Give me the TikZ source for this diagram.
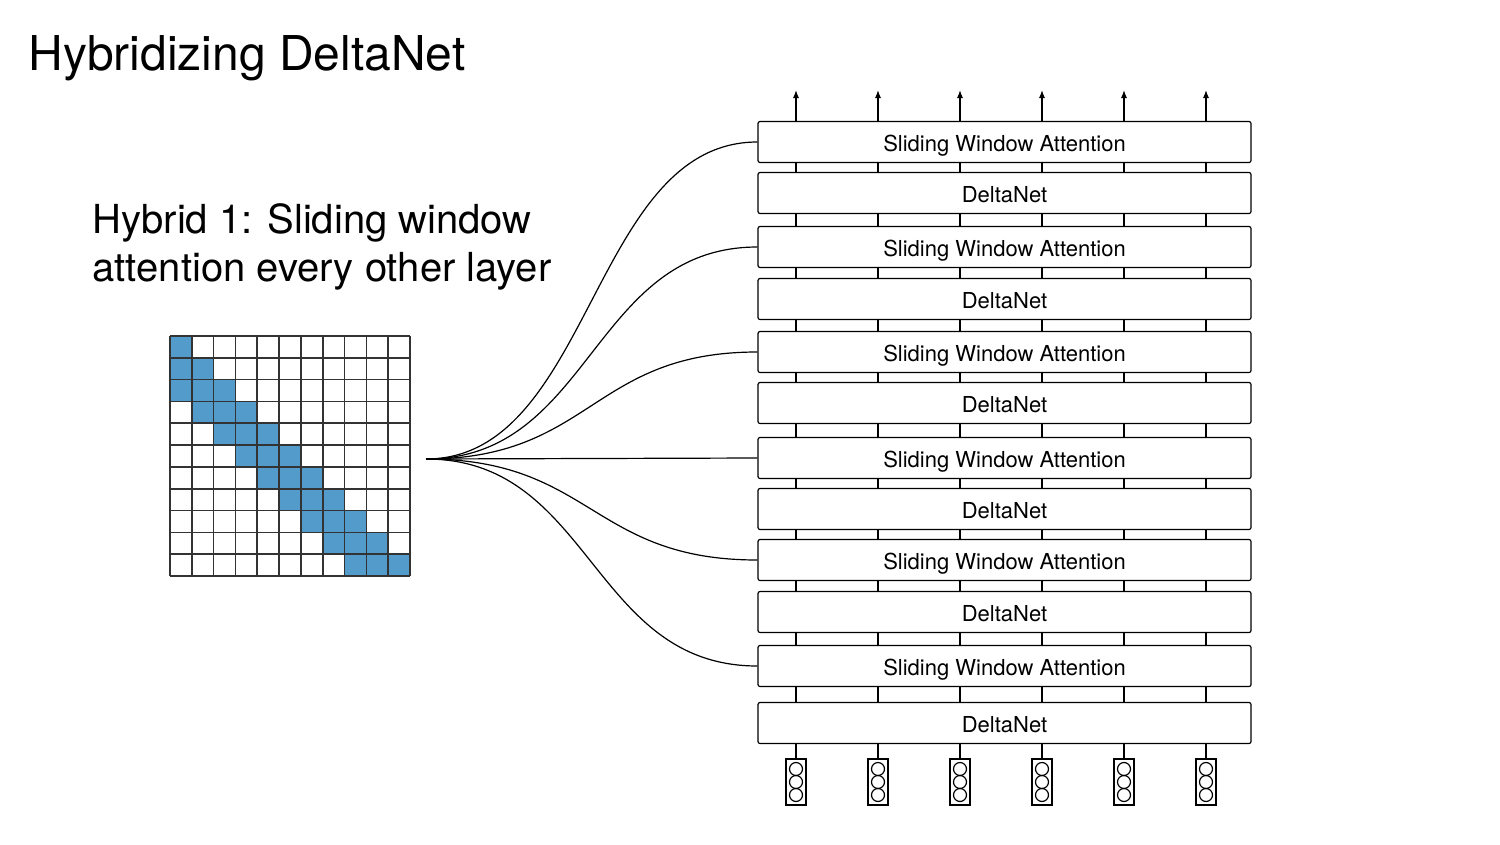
\documentclass[tikz,border=0pt]{standalone}
\usepackage{fontspec}
\setmainfont{TeX Gyre Heros}
\usetikzlibrary{arrows.meta}
\definecolor{windowblue}{RGB}{82,155,202}
\tikzset{
  layer/.style={draw, rounded corners=2pt, minimum width=493pt, minimum height=41pt, inner sep=0pt, text height=19pt, text depth=0pt, font=\fontsize{22}{26}\selectfont},
  token/.style={draw, minimum width=20pt, minimum height=46pt, inner sep=0pt},
  slot/.style={draw, circle, minimum size=13pt, inner sep=0pt},
  cell/.style={fill=windowblue},
  gridline/.style={draw=black!80, line width=1.6pt},
}

\begin{document}
\begin{tikzpicture}[x=1pt, y=-1pt, line width=1.2pt]
    \useasboundingbox (0,0) rectangle (1500,844);

    \node[anchor=base west, inner sep=0pt, font=\fontsize{48}{58}\selectfont] (title) at (28,70) {Hybridizing DeltaNet};
    \node[anchor=north west, inner sep=0pt, align=left, font=\fontsize{40}{48}\selectfont] (hybrid) at (92,203) {Hybrid 1: Sliding window\\attention every other layer};

    % layer stack
    \node[layer] (L1) at (1004.5,142) {Sliding Window Attention};
    \node[layer] (L2) at (1004.5,193) {DeltaNet};
    \node[layer] (L3) at (1004.5,247) {Sliding Window Attention};
    \node[layer] (L4) at (1004.5,299) {DeltaNet};
    \node[layer] (L5) at (1004.5,352) {Sliding Window Attention};
    \node[layer] (L6) at (1004.5,403) {DeltaNet};
    \node[layer] (L7) at (1004.5,458) {Sliding Window Attention};
    \node[layer] (L8) at (1004.5,509) {DeltaNet};
    \node[layer] (L9) at (1004.5,560) {Sliding Window Attention};
    \node[layer] (L10) at (1004.5,612) {DeltaNet};
    \node[layer] (L11) at (1004.5,666) {Sliding Window Attention};
    \node[layer] (L12) at (1004.5,723) {DeltaNet};

    % token columns
    \foreach \k/\x in {1/796,2/878,3/960,4/1042,5/1124,6/1206} {
        \coordinate (c\k) at (\x,0);
        \coordinate (out\k) at (\x,90);
        \node[token] (t\k) at (\x,782) {};
        \node[slot] (s\k a) at (\x,769) {};
        \node[slot] (s\k b) at (\x,782) {};
        \node[slot] (s\k c) at (\x,795) {};
        \draw[-{Latex[length=8pt,width=6pt]}] (L1.north -| c\k) -- (out\k);
        \draw (t\k.north) -- (L12.south -| c\k);
        \foreach \a/\b in {L1/L2,L2/L3,L3/L4,L4/L5,L5/L6,L6/L7,L7/L8,L8/L9,L9/L10,L10/L11,L11/L12}
            \draw (\a.south -| c\k) -- (\b.north -| c\k);
    }

    % attention mask
    \foreach \r in {0,...,10} {
        \foreach \d in {0,1,2} {
            \pgfmathtruncatemacro\c{\r-\d}
            \ifnum\c>-1
                \fill[cell] ({170+\c*240/11},{336+\r*240/11}) rectangle +(240/11,240/11);
            \fi
        }
    }
    \foreach \i in {0,...,11} {
        \draw[gridline] ({170+\i*240/11},336) -- ({170+\i*240/11},576);
        \draw[gridline] (170,{336+\i*240/11}) -- (410,{336+\i*240/11});
    }
    \coordinate (mask) at (426,459);

    \foreach \l in {L1,L3,L5,L7,L9,L11}
        \draw (mask) .. controls +(166,0) and +(-166,0) .. (\l.west);
\end{tikzpicture}
\end{document}
